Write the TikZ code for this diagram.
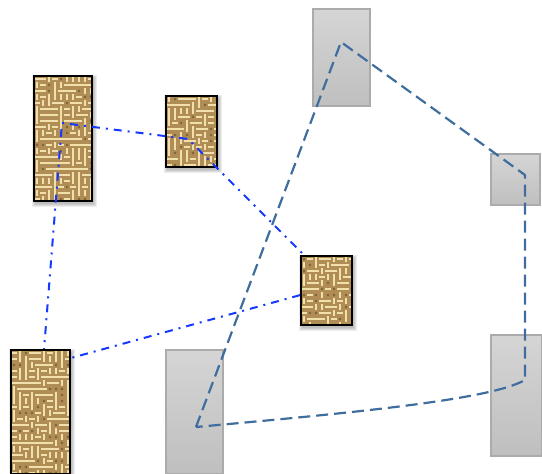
\documentclass[tikz,border=0pt]{standalone}
\usetikzlibrary{calc}

\definecolor{burlapbase}{HTML}{B08D55}
\definecolor{burlaplight}{HTML}{F2E0AC}
\definecolor{burlapdark}{HTML}{5E4421}
\definecolor{boxtop}{HTML}{D5D5D5}
\definecolor{boxbot}{HTML}{BFBFBF}
\definecolor{boxedge}{HTML}{ABABAB}
\definecolor{routeblue}{HTML}{1438FF}
\definecolor{routesteel}{HTML}{3F6E9E}

% woven sack: name, left, top, right, bottom (pixels)
\newcommand{\sackbox}[5]{%
  \foreach \k in {1,2,3,4}
    \fill[black,opacity=0.07] (#2-\k+2,#3-\k+3) rectangle (#4+\k+1,#5+\k+2);
  \fill[burlapbase] (#2,#3) rectangle (#4,#5);
  \begin{scope}
    \clip (#2,#3) rectangle (#4,#5);
    \pgfmathtruncatemacro\ncols{(#4-#2)/6}
    \pgfmathtruncatemacro\nrows{(#5-#3)/6}
    \foreach \i in {0,...,\ncols}
      \foreach \j in {0,...,\nrows}{
        \pgfmathsetmacro\cx{#2+6*\i}
        \pgfmathsetmacro\cy{#3+6*\j}
        \pgfmathrandominteger{\pick}{0}{6}
        \ifnum\pick<3
          \draw[burlaplight,line width=2.6] (\cx,\cy+3) -- ++(6,0);
        \else\ifnum\pick<6
          \draw[burlaplight,line width=2.6] (\cx+3,\cy) -- ++(0,6);
        \else
          \fill[burlapdark,opacity=0.6] (\cx+3,\cy+3) circle (1.4);
        \fi\fi
      }
  \end{scope}
  \draw[black,line width=1.6] (#2,#3) rectangle (#4,#5);
  \coordinate (#1) at ($(#2,#3)!0.5!(#4,#5)$);
}

\begin{document}
\begin{tikzpicture}[x=1pt,y=-1pt,
  greybox/.style={top color=boxtop,bottom color=boxbot,draw=boxedge,line width=1.5},
  steelroute/.style={routesteel,line width=2.2,dash pattern=on 12 off 6,line join=round},
  blueroute/.style={routeblue,line width=2,dash pattern=on 8 off 6 on 2 off 6,line join=round}]
\pgfmathsetseed{42}
\useasboundingbox (0,0) rectangle (542,474);

% grey blocks
\shade[greybox] (313,9) rectangle (370,106);
\shade[greybox] (491,154) rectangle (540,205);
\shade[greybox] (491,335) rectangle (542,456);
\shade[greybox] (166,350) rectangle (223,474);

% dashed tour
\coordinate (s1) at (196,427);
\coordinate (s2) at (341,42);
\coordinate (s3) at (525,175);
\coordinate (s4) at (525,380);
\draw[steelroute] (s1) -- (s2) -- (s3) -- (s4)
  .. controls (490,400) and (350,413) .. (s1);

% sacks under the route
\sackbox{sackA}{34}{76}{92}{201}
\sackbox{sackB}{166}{96}{217}{167}

% dash-dot tour
\coordinate (b1) at (40,400);
\coordinate (b2) at (62,123);
\coordinate (b3) at (188,139);
\coordinate (b4) at (326,277);
\coordinate (b5) at (326,288);
\coordinate (b6) at (60,361);
\draw[blueroute] (b1) -- (b2) -- (b3) -- (b4) -- (b5) -- (b6);

% sacks over the route
\sackbox{sackC}{301}{256}{352}{325}
\sackbox{sackD}{11}{350}{70}{474}
\end{tikzpicture}
\end{document}
